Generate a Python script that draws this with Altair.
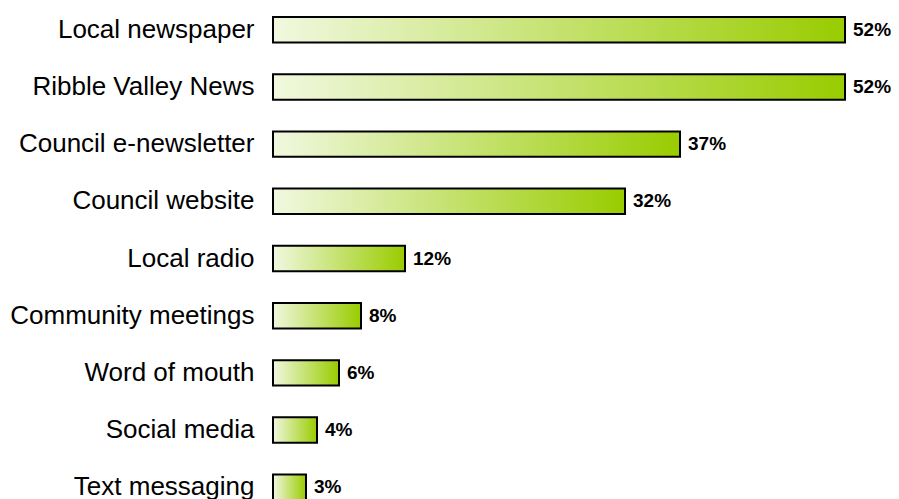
import altair as alt
import pandas as pd

categories = [
    "Local newspaper",
    "Ribble Valley News",
    "Council e-newsletter",
    "Council website",
    "Local radio",
    "Community meetings",
    "Word of mouth",
    "Social media",
    "Text messaging",
]
values = [52, 52, 37, 32, 12, 8, 6, 4, 3]
labels = ["52%", "52%", "37%", "32%", "12%", "8%", "6%", "4%", "3%"]

df = pd.DataFrame({"category": categories, "value": values, "label": labels})

y = alt.Y(
    "category:N",
    sort=categories,
    scale=alt.Scale(paddingInner=0.555, paddingOuter=0.157),
    axis=alt.Axis(
        title=None, domain=False, ticks=False, grid=False,
        labelFontSize=26, labelFont="Liberation Sans", labelColor="black",
        labelPadding=19, labelLimit=500,
    ),
)
x = alt.X("value:Q", scale=alt.Scale(domain=[0, 56.18]), axis=None)

grad = alt.Gradient(
    gradient="linear",
    stops=[
        alt.GradientStop(color="#f1f8df", offset=0),
        alt.GradientStop(color="#99cc00", offset=1),
    ],
    x1=0, x2=1, y1=0, y2=0,
)

bars = alt.Chart(df).mark_bar(color=grad, stroke="black", strokeWidth=2).encode(x=x, y=y)
text = alt.Chart(df).mark_text(
    align="left", baseline="middle", dx=8, fontSize=19, fontWeight="bold",
    font="Liberation Sans", color="black",
).encode(x=x, y=y, text="label:N")

chart = (bars + text).properties(
    width=618, height=501,
    autosize=alt.AutoSizeParams(type="none"),
    padding={"left": 265, "top": 0, "right": 0, "bottom": 0},
).configure_view(stroke=None)

chart.save("out.html", embed_options={"renderer": "svg", "actions": False})
